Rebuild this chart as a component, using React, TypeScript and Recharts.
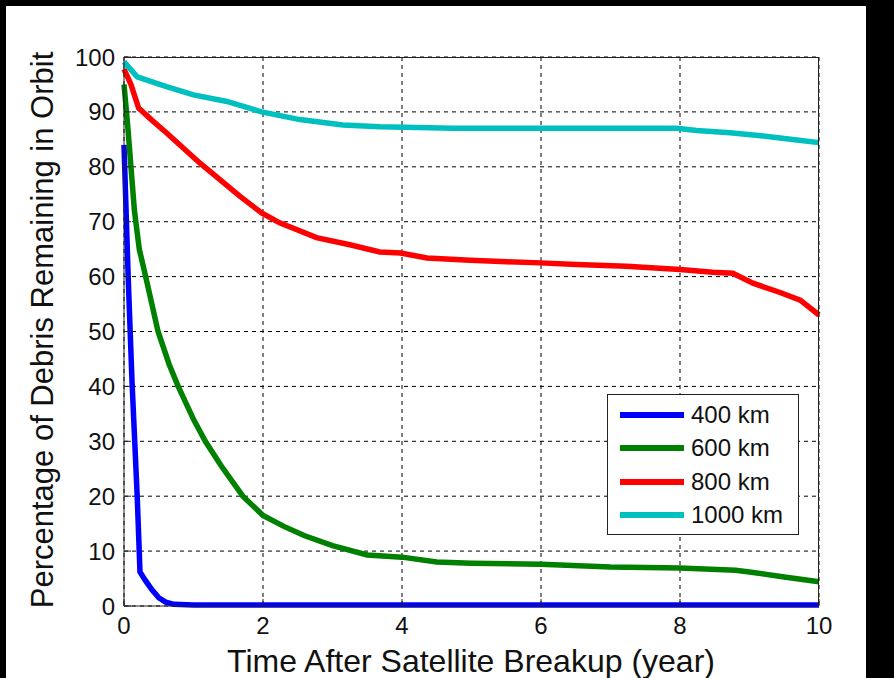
import React from 'react';
import { LineChart, Line, XAxis, YAxis, CartesianGrid, Label } from 'recharts';

// years after breakup / percent of debris still in orbit, one pair per altitude
const years400 = [0, 0.03, 0.06, 0.115, 0.19, 0.23, 0.3, 0.4, 0.5, 0.6, 0.72, 1, 10];
const pct400 = [84, 72, 60, 41, 20, 6.2, 4.8, 3, 1.5, 0.7, 0.3, 0.2, 0.2];

const years600 = [0, 0.05, 0.1, 0.15, 0.22, 0.33, 0.49, 0.65, 0.78, 1, 1.17, 1.4, 1.71, 2, 2.3, 2.6, 3, 3.5, 4, 4.5, 5, 6, 7, 8, 8.8, 9, 9.5, 10];
const pct600 = [95, 88, 80, 72, 65, 59, 50, 44, 40, 34, 30, 25.5, 20, 16.5, 14.5, 12.8, 11, 9.3, 8.9, 8, 7.8, 7.6, 7.1, 6.9, 6.5, 6.2, 5.3, 4.4];

const years800 = [0, 0.1, 0.21, 0.4, 0.61, 1.09, 1.67, 1.98, 2.24, 2.77, 3.25, 3.68, 3.98, 4.36, 4.98, 5.51, 5.99, 6.51, 7.23, 8, 8.47, 8.76, 9.05, 9.44, 9.73, 10];
const pct800 = [97.8, 95, 90.7, 88.5, 86.2, 80.7, 74.6, 71.6, 69.8, 67.1, 65.8, 64.5, 64.3, 63.4, 63, 62.7, 62.5, 62.2, 61.9, 61.3, 60.8, 60.6, 58.8, 57.1, 55.7, 53];

const years1000 = [0, 0.19, 0.61, 1.0, 1.48, 1.98, 2.53, 3.15, 3.68, 4.74, 6, 7.95, 8.24, 8.72, 9.2, 9.68, 10];
const pct1000 = [99.1, 96.4, 94.6, 93.1, 91.9, 90, 88.6, 87.6, 87.3, 87, 87, 87, 86.6, 86.2, 85.6, 84.9, 84.4];

const xTicks = [0, 2, 4, 6, 8, 10];
const yTicks = [0, 10, 20, 30, 40, 50, 60, 70, 80, 90, 100];

const series = [
    { name: '400 km', color: '#0000ff', years: years400, pct: pct400 },
    { name: '600 km', color: '#008000', years: years600, pct: pct600 },
    { name: '800 km', color: '#ff0000', years: years800, pct: pct800 },
    { name: '1000 km', color: '#00bfbf', years: years1000, pct: pct1000 },
];

const toPoints = (years: number[], pct: number[]) => years.map((t, i) => ({ t, v: pct[i] }));

const FONT = '"Liberation Sans", Arial, sans-serif';

// plot box in page pixels
const PLOT = { left: 124, top: 57, right: 819, bottom: 606 };

const LegendBox = () => (
    <div
        style={{
            position: 'absolute',
            left: 607,
            top: 394,
            width: 192,
            height: 141,
            border: '1.5px solid #222',
            background: '#fff',
            boxSizing: 'border-box',
            paddingTop: 3,
        }}
    >
        {series.map(s => (
            <div key={s.name} style={{ display: 'flex', alignItems: 'center', height: 33.5 }}>
                <svg width={83} height={10} style={{ display: 'block' }}>
                    <line x1={12} y1={5} x2={76} y2={5} stroke={s.color} strokeWidth={6} />
                </svg>
                <span style={{ fontFamily: FONT, fontSize: 24, color: '#111', lineHeight: '24px' }}>{s.name}</span>
            </div>
        ))}
    </div>
);

const NoLabel = () => <g />;

const App: React.FC = () => {
    return (
        <div style={{ position: 'absolute', left: 0, top: 0, width: 894, height: 678, background: '#000' }}>
            <div style={{ position: 'absolute', left: 6, top: 6, width: 860, height: 672, background: '#fff' }} />
            <div style={{ position: 'absolute', left: 0, top: 0 }}>
                <LineChart
                    width={894}
                    height={678}
                    margin={{ top: PLOT.top, right: 894 - PLOT.right, bottom: 678 - PLOT.bottom - 30, left: PLOT.left - 60 }}
                >
                    <CartesianGrid xAxisId="bottom" yAxisId="left" stroke="#000" strokeDasharray="4 4" strokeWidth={1} />
                    <XAxis
                        xAxisId="bottom"
                        dataKey="t"
                        type="number"
                        domain={[0, 10]}
                        ticks={xTicks}
                        height={30}
                        stroke="#222"
                        tickSize={-7}
                        tickMargin={18}
                        tick={{ fontSize: 24, fontFamily: FONT, fill: '#111' }}
                        allowDuplicatedCategory={false}
                    >
                        <Label
                            content={() => (
                                <text x={471} y={672} textAnchor="middle" fontSize={32} fontFamily={FONT} fill="#111">
                                    Time After Satellite Breakup (year)
                                </text>
                            )}
                        />
                    </XAxis>
                    <XAxis
                        xAxisId="top"
                        orientation="top"
                        type="number"
                        domain={[0, 10]}
                        ticks={xTicks}
                        height={0}
                        stroke="#222"
                        tickSize={-7}
                        tick={NoLabel}
                    />
                    <YAxis
                        yAxisId="left"
                        type="number"
                        domain={[0, 100]}
                        ticks={yTicks}
                        width={60}
                        stroke="#222"
                        tickSize={-7}
                        tickMargin={16}
                        tick={{ fontSize: 24, fontFamily: FONT, fill: '#111' }}
                    >
                        <Label
                            content={() => (
                                <text
                                    x={53}
                                    y={330}
                                    transform="rotate(-90 53 330)"
                                    textAnchor="middle"
                                    fontSize={31}
                                    fontFamily={FONT}
                                    fill="#111"
                                >
                                    Percentage of Debris Remaining in Orbit
                                </text>
                            )}
                        />
                    </YAxis>
                    <YAxis
                        yAxisId="right"
                        orientation="right"
                        type="number"
                        domain={[0, 100]}
                        ticks={yTicks}
                        width={0}
                        stroke="#222"
                        tickSize={-7}
                        tick={NoLabel}
                    />
                    {series.map(s => (
                        <Line
                            key={s.name}
                            xAxisId="bottom"
                            yAxisId="left"
                            data={toPoints(s.years, s.pct)}
                            dataKey="v"
                            name={s.name}
                            type="linear"
                            stroke={s.color}
                            strokeWidth={5.5}
                            dot={false}
                            activeDot={false}
                            isAnimationActive={false}
                        />
                    ))}
                </LineChart>
            </div>
            {/* axes box around the plot */}
            <div
                style={{
                    position: 'absolute',
                    left: PLOT.left,
                    top: PLOT.top,
                    width: PLOT.right - PLOT.left,
                    height: PLOT.bottom - PLOT.top,
                    borderTop: '1.5px solid #222',
                    borderRight: '1.5px solid #222',
                    boxSizing: 'border-box',
                    pointerEvents: 'none',
                }}
            />
            <LegendBox />
        </div>
    );
};

export default App;
